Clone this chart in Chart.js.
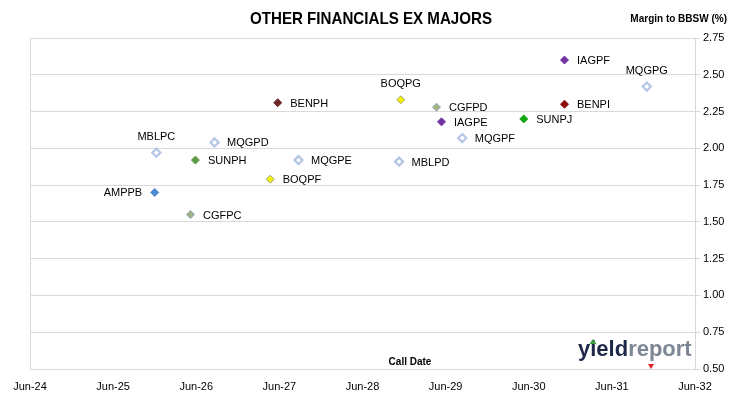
<!DOCTYPE html>
<html>
<head>
<meta charset="utf-8">
<script src="https://cdn.jsdelivr.net/npm/chart.js@4/dist/chart.umd.min.js"></script>
<style>
  html, body { margin: 0; padding: 0; background: #ffffff; }
  #wrap { width: 730px; height: 399px; position: relative; }
</style>
</head>
<body>
<div id="wrap"><canvas id="c" width="730" height="399"></canvas></div>
<script>
// ---- data ----
const securities = ['AMPPB','MBLPC','CGFPC','SUNPH','MQGPD','BENPH','BOQPF','MQGPE','MBLPD','BOQPG','CGFPD','IAGPE','MQGPF','SUNPJ','IAGPF','BENPI','MQGPG'];
const callDates  = [2026.00, 2026.02, 2026.43, 2026.49, 2026.72, 2027.48, 2027.39, 2027.73, 2028.94, 2028.96, 2029.39, 2029.45, 2029.70, 2030.44, 2030.93, 2030.93, 2031.92];
const margins    = [1.70, 1.97, 1.55, 1.92, 2.04, 2.31, 1.79, 1.92, 1.91, 2.33, 2.28, 2.18, 2.07, 2.20, 2.60, 2.30, 2.42];
const xTickLabels = ['Jun-24','Jun-25','Jun-26','Jun-27','Jun-28','Jun-29','Jun-30','Jun-31','Jun-32'];
const yTickValues = [0.50, 0.75, 1.00, 1.25, 1.50, 1.75, 2.00, 2.25, 2.50, 2.75];

// ---- styles ----
const hollow = {fill:'#ffffff', stroke:'#b6c6e6', bw:2.3, r:4};
const styleOf = {
  AMPPB: {fill:'#4f8ad4', stroke:'#4f8ad4', bw:1},
  MBLPC: hollow, MBLPD: hollow, MQGPD: hollow, MQGPE: hollow, MQGPF: hollow, MQGPG: hollow,
  CGFPC: {fill:'#a3b47e', stroke:'#8fa7c4', bw:1},
  CGFPD: {fill:'#a3b47e', stroke:'#8fa7c4', bw:1},
  SUNPH: {fill:'#5e9a48', stroke:'#5e9a48', bw:1},
  SUNPJ: {fill:'#13a813', stroke:'#13a813', bw:1},
  BOQPF: {fill:'#f2f20a', stroke:'#a8a878', bw:1},
  BOQPG: {fill:'#f2f20a', stroke:'#a8a878', bw:1},
  BENPH: {fill:'#6e2626', stroke:'#6e2626', bw:1},
  BENPI: {fill:'#8e0a0a', stroke:'#8e0a0a', bw:1},
  IAGPE: {fill:'#7233a2', stroke:'#7233a2', bw:1},
  IAGPF: {fill:'#7233a2', stroke:'#7233a2', bw:1}
};
const labelPlace = { AMPPB:'left', MBLPC:'above', BOQPG:'above', MQGPG:'above' };

const datasets = securities.map((s, i) => ({
  label: s,
  data: [{x: callDates[i], y: margins[i]}],
  pointStyle: 'rectRot',
  pointRadius: styleOf[s].r || 4,
  pointHoverRadius: styleOf[s].r || 4,
  backgroundColor: styleOf[s].fill,
  borderColor: styleOf[s].stroke,
  borderWidth: styleOf[s].bw,
  showLine: false
}));

const FONT = '"Liberation Sans", Arial, sans-serif';

const decorPlugin = {
  id: 'decor',
  beforeDatasetsDraw(chart) {
    const {ctx, chartArea: a} = chart;
    ctx.save();
    ctx.strokeStyle = '#d9d9d9';
    ctx.lineWidth = 1;
    ctx.beginPath();
    ctx.moveTo(Math.round(a.left) + 0.5, a.top);
    ctx.lineTo(Math.round(a.left) + 0.5, a.bottom);
    ctx.stroke();
    ctx.restore();
  },
  afterDatasetsDraw(chart) {
    const {ctx} = chart;
    ctx.save();
    ctx.font = '11px ' + FONT;
    ctx.fillStyle = '#000000';
    chart.data.datasets.forEach((ds, i) => {
      const el = chart.getDatasetMeta(i).data[0];
      const p = labelPlace[ds.label] || 'right';
      if (p === 'right') { ctx.textAlign = 'left'; ctx.textBaseline = 'middle'; ctx.fillText(ds.label, el.x + 12.5, el.y + 1); }
      else if (p === 'left') { ctx.textAlign = 'right'; ctx.textBaseline = 'middle'; ctx.fillText(ds.label, el.x - 12.5, el.y + 1); }
      else { ctx.textAlign = 'center'; ctx.textBaseline = 'middle'; ctx.fillText(ds.label, el.x, el.y - 16); }
    });
    ctx.restore();
  },
  afterDraw(chart) {
    const {ctx} = chart;
    ctx.save();
    // title (condensed)
    ctx.fillStyle = '#000000';
    ctx.textAlign = 'center'; ctx.textBaseline = 'middle';
    ctx.font = 'bold 17px ' + FONT;
    ctx.save();
    ctx.translate(371, 19);
    ctx.scale(0.89, 1);
    ctx.fillText('OTHER FINANCIALS EX MAJORS', 0, 0);
    ctx.restore();
    // axis title (right)
    ctx.textAlign = 'right';
    ctx.font = 'bold 10px ' + FONT;
    ctx.fillText('Margin to BBSW (%)', 727, 19);
    // call date
    ctx.textAlign = 'center';
    ctx.fillText('Call Date', 410, 362);
    // logo
    ctx.textAlign = 'left'; ctx.textBaseline = 'alphabetic';
    ctx.font = 'bold 22px ' + FONT;
    ctx.fillStyle = '#1e2848';
    ctx.fillText('yield', 578, 356);
    const w = ctx.measureText('yield').width;
    ctx.fillStyle = '#7c8694';
    ctx.fillText('report', 578 + w, 356);
    ctx.fillStyle = '#3f9b3f';
    ctx.beginPath(); ctx.moveTo(593, 339); ctx.lineTo(596.5, 344); ctx.lineTo(589.5, 344); ctx.closePath(); ctx.fill();
    ctx.fillStyle = '#e02020';
    ctx.beginPath(); ctx.moveTo(648, 364); ctx.lineTo(654, 364); ctx.lineTo(651, 369); ctx.closePath(); ctx.fill();
    ctx.restore();
  }
};

new Chart(document.getElementById('c'), {
  type: 'scatter',
  data: { datasets },
  options: {
    responsive: false,
    animation: false,
    layout: { padding: { top: 38, left: 30, right: 0, bottom: 0 } },
    plugins: { legend: { display: false }, title: { display: false }, tooltip: { enabled: false } },
    scales: {
      x: {
        type: 'linear',
        min: 2024.5, max: 2032.5,
        afterBuildTicks(scale) { scale.ticks = xTickLabels.map((t, i) => ({ value: 2024.5 + i })); },
        afterFit(scale) { scale.height = 30; },
        grid: { display: false },
        border: { display: true, color: '#d9d9d9' },
        ticks: {
          autoSkip: false, maxRotation: 0, padding: 3,
          color: '#000000', font: { family: FONT, size: 11 },
          callback: (v, i) => xTickLabels[i]
        }
      },
      y: {
        position: 'right',
        min: 0.5, max: 2.75,
        afterBuildTicks(scale) { scale.ticks = yTickValues.map(v => ({ value: v })); },
        afterFit(scale) { scale.width = 35; },
        grid: { color: '#d9d9d9', tickLength: 5 },
        border: { display: true, color: '#d9d9d9' },
        ticks: {
          padding: 3, color: '#000000', font: { family: FONT, size: 11 },
          callback: v => Number(v).toFixed(2)
        }
      }
    }
  },
  plugins: [decorPlugin]
});
</script>
</body>
</html>
